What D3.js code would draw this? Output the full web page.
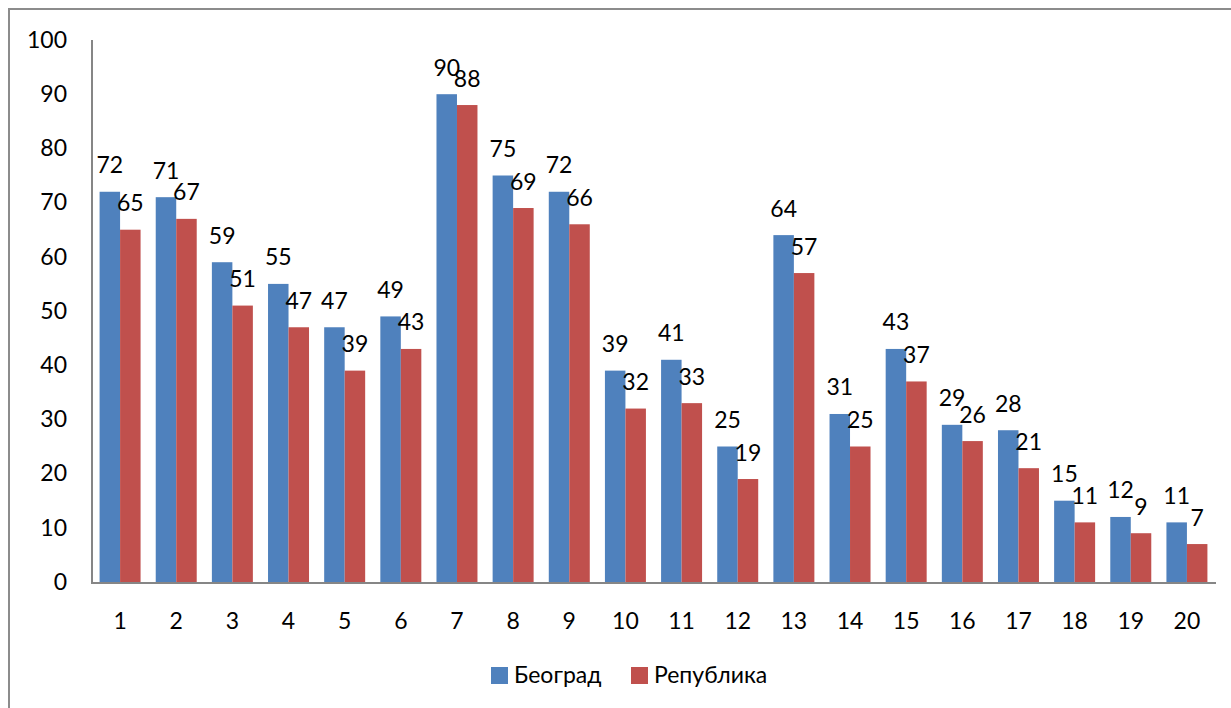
<!DOCTYPE html>
<html>
<head>
<meta charset="utf-8">
<script src="https://cdn.jsdelivr.net/npm/d3@7"></script>
<style>
  html, body { margin: 0; padding: 0; background: #fff; }
  svg { display: block; }
  text { font-family: Lato, "Open Sans", sans-serif; fill: #000; }
</style>
</head>
<body>
<svg id="chart" width="1231" height="708"></svg>
<script>
// Categories along the x axis
const categories = ["1","2","3","4","5","6","7","8","9","10","11","12","13","14","15","16","17","18","19","20"];
// Series values
const beograd   = [72,71,59,55,47,49,90,75,72,39,41,25,64,31,43,29,28,15,12,11];
const republika = [65,67,51,47,39,43,88,69,66,32,33,19,57,25,37,26,21,11,9,7];
const seriesNames = ["Београд", "Република"];
const seriesColors = ["#4F81BD", "#C0504D"];
const yTicks = [0,10,20,30,40,50,60,70,80,90,100];

const svg = d3.select("#chart");
const W = 1231, H = 708;
const plot = { left: 92, right: 1215, top: 40, bottom: 582 };
const FS = 23;

// outer chart frame
svg.append("rect")
  .attr("x", 9).attr("y", 9)
  .attr("width", W + 20).attr("height", H + 20)
  .attr("fill", "none").attr("stroke", "#8c8c8c").attr("stroke-width", 2);

const x = d3.scaleBand().domain(categories)
  .range([plot.left, plot.right]).paddingInner(0.27).paddingOuter(0.135);
const xs = d3.scaleBand().domain([0, 1]).range([0, x.bandwidth()]).padding(0);
const y = d3.scaleLinear().domain([0, 100]).range([plot.bottom, plot.top]);

const rows = categories.map((c, i) => ({ c, vals: [beograd[i], republika[i]] }));

// bars
const groups = svg.append("g").selectAll("g").data(rows).join("g")
  .attr("transform", d => `translate(${x(d.c)},0)`);

groups.selectAll("rect").data(d => d.vals.map((v, s) => ({ v, s }))).join("rect")
  .attr("x", d => xs(d.s))
  .attr("y", d => y(d.v))
  .attr("width", xs.bandwidth())
  .attr("height", d => y(0) - y(d.v))
  .attr("fill", d => seriesColors[d.s]);

// value labels
groups.selectAll("text").data(d => d.vals.map((v, s) => ({ v, s }))).join("text")
  .attr("x", d => xs(d.s) + xs.bandwidth() / 2)
  .attr("y", d => y(d.v) - 18.5)
  .attr("text-anchor", "middle")
  .attr("font-size", FS)
  .text(d => d.v);

// axes
const yAxis = svg.append("g")
  .attr("transform", `translate(${plot.left},0)`)
  .call(d3.axisLeft(y).tickValues(yTicks).tickSize(0).tickPadding(25));
const xAxis = svg.append("g")
  .attr("transform", `translate(0,${plot.bottom + 1})`)
  .call(d3.axisBottom(x).tickSize(0).tickPadding(30));

[yAxis, xAxis].forEach(a => {
  a.select(".domain").attr("stroke", "#868686").attr("stroke-width", 2);
  a.selectAll("text").attr("font-size", FS).attr("font-family", "Lato, 'Open Sans', sans-serif").attr("fill", "#000");
});
xAxis.select(".domain").attr("d", `M${plot.left - 1},0H${plot.right + 1}`);
yAxis.select(".domain").attr("d", `M0,${plot.top}V${plot.bottom + 2}`);

// legend
const legend = svg.append("g").attr("transform", "translate(491,667)");
const items = [{ x: 0 }, { x: 140 }];
seriesNames.forEach((name, i) => {
  const g = legend.append("g").attr("transform", `translate(${items[i].x},0)`);
  g.append("rect").attr("width", 17).attr("height", 17).attr("fill", seriesColors[i]);
  g.append("text").attr("x", 23).attr("y", 16).attr("font-size", FS).text(name);
});
</script>
</body>
</html>
